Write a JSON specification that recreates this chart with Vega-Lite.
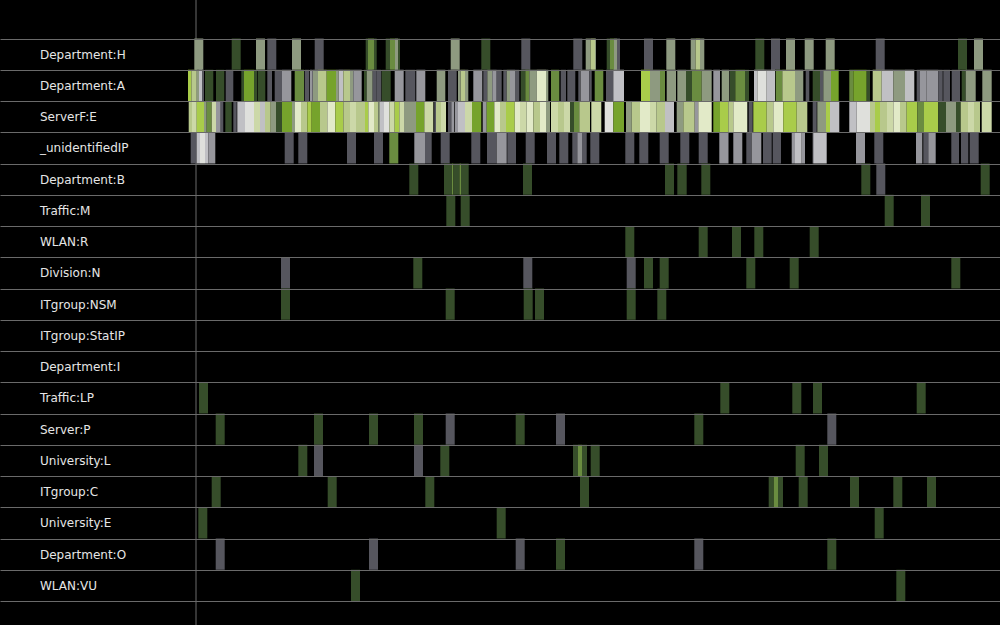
{"$schema":"https://vega.github.io/schema/vega-lite/v6.json","width":1000,"height":625,"padding":0,"autosize":{"type":"none"},"background":"#000000","config":{"view":{"stroke":null}},
"layer":[
{"data":{"values":[{"t":196}]},"mark":{"type":"rule","color":"#6a6a6a","strokeWidth":1},"encoding":{"x":{"field":"t","type":"quantitative","scale":{"domain":[0,1000]},"axis":null}}},
{"data":{"name":"events","values":[
{"r":"Department:H","s":194.3,"e":203.3,"c":"S"},{"r":"Department:H","s":231.7,"e":240.7,"c":"G"},{"r":"Department:H","s":256,"e":265,"c":"S"},{"r":"Department:H","s":267.3,"e":276.3,"c":"K"},{"r":"Department:H","s":292,"e":301,"c":"S"},{"r":"Department:H","s":314.7,"e":323.7,"c":"K"},{"r":"Department:H","s":365.7,"e":368,"c":"G"},{"r":"Department:H","s":368,"e":374,"c":"D"},{"r":"Department:H","s":374,"e":376.7,"c":"G"},{"r":"Department:H","s":385.7,"e":390,"c":"G"},{"r":"Department:H","s":390,"e":395,"c":"D"},{"r":"Department:H","s":395,"e":398,"c":"S"},{"r":"Department:H","s":398,"e":400,"c":"G"},{"r":"Department:H","s":450.7,"e":459.7,"c":"S"},{"r":"Department:H","s":481.3,"e":490.3,"c":"G"},{"r":"Department:H","s":521.3,"e":530.3,"c":"K"},{"r":"Department:H","s":573.3,"e":582.3,"c":"K"},{"r":"Department:H","s":585.7,"e":590.5,"c":"S"},{"r":"Department:H","s":590.5,"e":595,"c":"Q"},{"r":"Department:H","s":595,"e":596,"c":"S"},{"r":"Department:H","s":606.7,"e":610,"c":"G"},{"r":"Department:H","s":610,"e":614,"c":"D"},{"r":"Department:H","s":614,"e":617,"c":"S"},{"r":"Department:H","s":617,"e":620,"c":"K"},{"r":"Department:H","s":644,"e":653,"c":"K"},{"r":"Department:H","s":666.3,"e":675.3,"c":"S"},{"r":"Department:H","s":690.7,"e":695.5,"c":"S"},{"r":"Department:H","s":695.5,"e":700,"c":"Q"},{"r":"Department:H","s":700,"e":704.3,"c":"S"},{"r":"Department:H","s":755.3,"e":764.3,"c":"G"},{"r":"Department:H","s":771,"e":780,"c":"K"},{"r":"Department:H","s":786,"e":795,"c":"S"},{"r":"Department:H","s":804.7,"e":813.7,"c":"S"},{"r":"Department:H","s":825.7,"e":834.7,"c":"S"},{"r":"Department:H","s":875.7,"e":884.7,"c":"K"},{"r":"Department:H","s":958,"e":967,"c":"G"},{"r":"Department:H","s":974,"e":983,"c":"S"},
{"r":"Department:A","s":188,"e":191.3,"c":"B"},{"r":"Department:A","s":191.3,"e":196.7,"c":"Q"},{"r":"Department:A","s":196.7,"e":199,"c":"S"},{"r":"Department:A","s":199,"e":202,"c":"L"},{"r":"Department:A","s":202,"e":204,"c":"K"},{"r":"Department:A","s":205,"e":213.3,"c":"G"},{"r":"Department:A","s":216,"e":224.3,"c":"G"},{"r":"Department:A","s":225.7,"e":233.3,"c":"K"},{"r":"Department:A","s":241.3,"e":244,"c":"G"},{"r":"Department:A","s":244,"e":254,"c":"V"},{"r":"Department:A","s":254,"e":257.3,"c":"G"},{"r":"Department:A","s":258,"e":265.3,"c":"G"},{"r":"Department:A","s":267.3,"e":272,"c":"K"},{"r":"Department:A","s":274.7,"e":282,"c":"K"},{"r":"Department:A","s":282,"e":291.3,"c":"M"},{"r":"Department:A","s":294.7,"e":304,"c":"D"},{"r":"Department:A","s":304.7,"e":309.3,"c":"K"},{"r":"Department:A","s":310,"e":312.7,"c":"M"},{"r":"Department:A","s":313,"e":318,"c":"S"},{"r":"Department:A","s":318,"e":326.7,"c":"Q"},{"r":"Department:A","s":326.7,"e":336,"c":"V"},{"r":"Department:A","s":336,"e":338.7,"c":"S"},{"r":"Department:A","s":338.7,"e":343.3,"c":"L"},{"r":"Department:A","s":343.3,"e":350,"c":"Q"},{"r":"Department:A","s":350,"e":353.3,"c":"S"},{"r":"Department:A","s":353.3,"e":361.7,"c":"M"},{"r":"Department:A","s":364,"e":366.7,"c":"G"},{"r":"Department:A","s":366.7,"e":372.7,"c":"S"},{"r":"Department:A","s":372.7,"e":376.7,"c":"K"},{"r":"Department:A","s":376.7,"e":381.3,"c":"K"},{"r":"Department:A","s":381.7,"e":390.7,"c":"G"},{"r":"Department:A","s":394.7,"e":403.7,"c":"M"},{"r":"Department:A","s":405.3,"e":415.3,"c":"K"},{"r":"Department:A","s":416.3,"e":425.3,"c":"M"},{"r":"Department:A","s":436.7,"e":445.3,"c":"S"},{"r":"Department:A","s":448,"e":456.7,"c":"K"},{"r":"Department:A","s":458,"e":460.7,"c":"S"},{"r":"Department:A","s":460.7,"e":465,"c":"Q"},{"r":"Department:A","s":465,"e":468.3,"c":"S"},{"r":"Department:A","s":473.3,"e":482.3,"c":"M"},{"r":"Department:A","s":483.3,"e":487.3,"c":"K"},{"r":"Department:A","s":487.3,"e":492.3,"c":"S"},{"r":"Department:A","s":492.3,"e":496.7,"c":"M"},{"r":"Department:A","s":496.7,"e":501.7,"c":"K"},{"r":"Department:A","s":503.3,"e":506.7,"c":"K"},{"r":"Department:A","s":506.7,"e":510,"c":"S"},{"r":"Department:A","s":510,"e":515,"c":"M"},{"r":"Department:A","s":515,"e":519.3,"c":"K"},{"r":"Department:A","s":520.7,"e":525.3,"c":"G"},{"r":"Department:A","s":525.3,"e":529.3,"c":"D"},{"r":"Department:A","s":529.3,"e":536.7,"c":"S"},{"r":"Department:A","s":536.7,"e":546,"c":"Y"},{"r":"Department:A","s":546,"e":548.3,"c":"S"},{"r":"Department:A","s":551,"e":559.3,"c":"D"},{"r":"Department:A","s":560.7,"e":566,"c":"K"},{"r":"Department:A","s":567.3,"e":575.3,"c":"K"},{"r":"Department:A","s":578.3,"e":580.7,"c":"K"},{"r":"Department:A","s":580.7,"e":589.3,"c":"M"},{"r":"Department:A","s":589.3,"e":591.7,"c":"K"},{"r":"Department:A","s":594.7,"e":603.3,"c":"D"},{"r":"Department:A","s":606,"e":613.3,"c":"K"},{"r":"Department:A","s":613.3,"e":624,"c":"L"},{"r":"Department:A","s":641,"e":650,"c":"B"},{"r":"Department:A","s":650,"e":660,"c":"S"},{"r":"Department:A","s":660,"e":665,"c":"D"},{"r":"Department:A","s":666.7,"e":676,"c":"S"},{"r":"Department:A","s":677.3,"e":686,"c":"S"},{"r":"Department:A","s":686,"e":692,"c":"G"},{"r":"Department:A","s":692,"e":701.7,"c":"D"},{"r":"Department:A","s":701.7,"e":711.7,"c":"S"},{"r":"Department:A","s":713.3,"e":720,"c":"M"},{"r":"Department:A","s":721.7,"e":729.3,"c":"S"},{"r":"Department:A","s":730,"e":735.3,"c":"G"},{"r":"Department:A","s":735.3,"e":745,"c":"D"},{"r":"Department:A","s":745,"e":749,"c":"G"},{"r":"Department:A","s":754,"e":757.3,"c":"L"},{"r":"Department:A","s":757.3,"e":766.7,"c":"W"},{"r":"Department:A","s":766.7,"e":775,"c":"L"},{"r":"Department:A","s":775.7,"e":782.3,"c":"D"},{"r":"Department:A","s":782.3,"e":795,"c":"Q"},{"r":"Department:A","s":795,"e":803.3,"c":"S"},{"r":"Department:A","s":805.7,"e":809.3,"c":"K"},{"r":"Department:A","s":812.7,"e":820,"c":"G"},{"r":"Department:A","s":820,"e":823.3,"c":"K"},{"r":"Department:A","s":823.3,"e":831,"c":"S"},{"r":"Department:A","s":831,"e":838.7,"c":"V"},{"r":"Department:A","s":849.3,"e":853.3,"c":"D"},{"r":"Department:A","s":853.3,"e":866.7,"c":"V"},{"r":"Department:A","s":866.7,"e":870,"c":"G"},{"r":"Department:A","s":872.7,"e":881.7,"c":"Q"},{"r":"Department:A","s":881.7,"e":893.3,"c":"L"},{"r":"Department:A","s":893.3,"e":905,"c":"S"},{"r":"Department:A","s":905,"e":914.3,"c":"L"},{"r":"Department:A","s":916.7,"e":920,"c":"K"},{"r":"Department:A","s":920,"e":926.7,"c":"M"},{"r":"Department:A","s":926.7,"e":938.3,"c":"M"},{"r":"Department:A","s":938.3,"e":942.7,"c":"K"},{"r":"Department:A","s":943.3,"e":950,"c":"K"},{"r":"Department:A","s":951.7,"e":960,"c":"K"},{"r":"Department:A","s":961.7,"e":965.7,"c":"G"},{"r":"Department:A","s":965.7,"e":975.7,"c":"S"},{"r":"Department:A","s":982.3,"e":991.7,"c":"S"},
{"r":"ServerF:E","s":188.7,"e":192,"c":"Q"},{"r":"ServerF:E","s":192,"e":196.7,"c":"P"},{"r":"ServerF:E","s":196.7,"e":204,"c":"B"},{"r":"ServerF:E","s":204,"e":206.7,"c":"S"},{"r":"ServerF:E","s":206.7,"e":211.7,"c":"D"},{"r":"ServerF:E","s":211.7,"e":216,"c":"P"},{"r":"ServerF:E","s":216,"e":220.7,"c":"M"},{"r":"ServerF:E","s":220.7,"e":223.3,"c":"K"},{"r":"ServerF:E","s":225.3,"e":231.7,"c":"G"},{"r":"ServerF:E","s":233.3,"e":236.7,"c":"K"},{"r":"ServerF:E","s":237.3,"e":245,"c":"L"},{"r":"ServerF:E","s":245,"e":254,"c":"W"},{"r":"ServerF:E","s":254,"e":260,"c":"P"},{"r":"ServerF:E","s":260,"e":265,"c":"L"},{"r":"ServerF:E","s":265,"e":270.7,"c":"Q"},{"r":"ServerF:E","s":270.7,"e":276,"c":"S"},{"r":"ServerF:E","s":276,"e":282,"c":"G"},{"r":"ServerF:E","s":282,"e":292,"c":"V"},{"r":"ServerF:E","s":292,"e":295,"c":"S"},{"r":"ServerF:E","s":295,"e":301,"c":"Y"},{"r":"ServerF:E","s":301,"e":307.3,"c":"Q"},{"r":"ServerF:E","s":307.3,"e":311.7,"c":"B"},{"r":"ServerF:E","s":311.7,"e":320,"c":"V"},{"r":"ServerF:E","s":320,"e":327.3,"c":"Q"},{"r":"ServerF:E","s":327.3,"e":335.3,"c":"Y"},{"r":"ServerF:E","s":335.3,"e":343.3,"c":"B"},{"r":"ServerF:E","s":343.3,"e":350,"c":"Q"},{"r":"ServerF:E","s":350,"e":356,"c":"P"},{"r":"ServerF:E","s":356,"e":365,"c":"Q"},{"r":"ServerF:E","s":365,"e":368.3,"c":"B"},{"r":"ServerF:E","s":368.3,"e":374,"c":"Y"},{"r":"ServerF:E","s":374,"e":378.3,"c":"Q"},{"r":"ServerF:E","s":378.3,"e":380,"c":"S"},{"r":"ServerF:E","s":380,"e":384,"c":"L"},{"r":"ServerF:E","s":384,"e":389.3,"c":"W"},{"r":"ServerF:E","s":389.3,"e":394.7,"c":"P"},{"r":"ServerF:E","s":394.7,"e":399.3,"c":"B"},{"r":"ServerF:E","s":399.3,"e":404,"c":"P"},{"r":"ServerF:E","s":404,"e":416,"c":"S"},{"r":"ServerF:E","s":416,"e":424.3,"c":"V"},{"r":"ServerF:E","s":424.3,"e":433.3,"c":"P"},{"r":"ServerF:E","s":434.3,"e":436,"c":"K"},{"r":"ServerF:E","s":436,"e":441,"c":"Q"},{"r":"ServerF:E","s":441,"e":446,"c":"P"},{"r":"ServerF:E","s":448,"e":451.3,"c":"K"},{"r":"ServerF:E","s":451.3,"e":454,"c":"M"},{"r":"ServerF:E","s":454.7,"e":458,"c":"M"},{"r":"ServerF:E","s":458,"e":465,"c":"L"},{"r":"ServerF:E","s":465,"e":472,"c":"P"},{"r":"ServerF:E","s":472,"e":481.3,"c":"V"},{"r":"ServerF:E","s":482.7,"e":486.7,"c":"M"},{"r":"ServerF:E","s":486.7,"e":494.3,"c":"V"},{"r":"ServerF:E","s":494.3,"e":500,"c":"Y"},{"r":"ServerF:E","s":500,"e":506,"c":"Q"},{"r":"ServerF:E","s":506,"e":514.7,"c":"B"},{"r":"ServerF:E","s":514.7,"e":520,"c":"Y"},{"r":"ServerF:E","s":520,"e":526.7,"c":"P"},{"r":"ServerF:E","s":526.7,"e":533.3,"c":"Y"},{"r":"ServerF:E","s":533.3,"e":540,"c":"Q"},{"r":"ServerF:E","s":540,"e":546,"c":"Y"},{"r":"ServerF:E","s":546,"e":550,"c":"S"},{"r":"ServerF:E","s":551,"e":558,"c":"P"},{"r":"ServerF:E","s":558,"e":564,"c":"Q"},{"r":"ServerF:E","s":564,"e":570,"c":"P"},{"r":"ServerF:E","s":570,"e":574,"c":"G"},{"r":"ServerF:E","s":574,"e":579.3,"c":"D"},{"r":"ServerF:E","s":579.3,"e":590,"c":"Q"},{"r":"ServerF:E","s":591.3,"e":601.3,"c":"P"},{"r":"ServerF:E","s":604.7,"e":613.3,"c":"W"},{"r":"ServerF:E","s":613.3,"e":624,"c":"V"},{"r":"ServerF:E","s":626,"e":631.7,"c":"S"},{"r":"ServerF:E","s":631.7,"e":640,"c":"Q"},{"r":"ServerF:E","s":640,"e":650,"c":"Y"},{"r":"ServerF:E","s":650,"e":656.7,"c":"P"},{"r":"ServerF:E","s":656.7,"e":665,"c":"Q"},{"r":"ServerF:E","s":665,"e":674,"c":"L"},{"r":"ServerF:E","s":676.7,"e":683.3,"c":"S"},{"r":"ServerF:E","s":683.3,"e":694.7,"c":"Q"},{"r":"ServerF:E","s":694.7,"e":698.3,"c":"M"},{"r":"ServerF:E","s":698.3,"e":711.7,"c":"Y"},{"r":"ServerF:E","s":713.3,"e":720,"c":"V"},{"r":"ServerF:E","s":720,"e":728.3,"c":"B"},{"r":"ServerF:E","s":728.3,"e":733.3,"c":"Q"},{"r":"ServerF:E","s":733.3,"e":747.3,"c":"Y"},{"r":"ServerF:E","s":748.7,"e":752.7,"c":"K"},{"r":"ServerF:E","s":753.3,"e":766.7,"c":"B"},{"r":"ServerF:E","s":766.7,"e":773.3,"c":"Q"},{"r":"ServerF:E","s":773.3,"e":783.3,"c":"Y"},{"r":"ServerF:E","s":783.3,"e":796.7,"c":"B"},{"r":"ServerF:E","s":796.7,"e":807.3,"c":"Q"},{"r":"ServerF:E","s":812.7,"e":816.7,"c":"K"},{"r":"ServerF:E","s":817.3,"e":826,"c":"S"},{"r":"ServerF:E","s":826,"e":830,"c":"B"},{"r":"ServerF:E","s":830,"e":839.3,"c":"L"},{"r":"ServerF:E","s":849.3,"e":856.7,"c":"L"},{"r":"ServerF:E","s":856.7,"e":870,"c":"W"},{"r":"ServerF:E","s":870,"e":875,"c":"Q"},{"r":"ServerF:E","s":875,"e":880,"c":"B"},{"r":"ServerF:E","s":880,"e":887,"c":"Q"},{"r":"ServerF:E","s":887,"e":893.3,"c":"P"},{"r":"ServerF:E","s":893.3,"e":900,"c":"Y"},{"r":"ServerF:E","s":900,"e":906.7,"c":"Q"},{"r":"ServerF:E","s":906.7,"e":917.3,"c":"B"},{"r":"ServerF:E","s":917.3,"e":924,"c":"D"},{"r":"ServerF:E","s":924,"e":938.3,"c":"B"},{"r":"ServerF:E","s":938.3,"e":946,"c":"G"},{"r":"ServerF:E","s":946,"e":956,"c":"S"},{"r":"ServerF:E","s":956,"e":960.7,"c":"G"},{"r":"ServerF:E","s":960.7,"e":968,"c":"Q"},{"r":"ServerF:E","s":968,"e":974,"c":"P"},{"r":"ServerF:E","s":974,"e":980,"c":"Q"},{"r":"ServerF:E","s":981.7,"e":991.7,"c":"P"},
{"r":"_unidentifiedIP","s":190.7,"e":196.7,"c":"K"},{"r":"_unidentifiedIP","s":196.7,"e":200,"c":"L"},{"r":"_unidentifiedIP","s":200,"e":205,"c":"W"},{"r":"_unidentifiedIP","s":205,"e":208.3,"c":"L"},{"r":"_unidentifiedIP","s":208.3,"e":215.3,"c":"M"},{"r":"_unidentifiedIP","s":284.7,"e":293.7,"c":"K"},{"r":"_unidentifiedIP","s":298.3,"e":307.3,"c":"K"},{"r":"_unidentifiedIP","s":347,"e":356,"c":"K"},{"r":"_unidentifiedIP","s":374,"e":383,"c":"K"},{"r":"_unidentifiedIP","s":389.3,"e":398.3,"c":"D"},{"r":"_unidentifiedIP","s":414.3,"e":425,"c":"M"},{"r":"_unidentifiedIP","s":425,"e":431.7,"c":"K"},{"r":"_unidentifiedIP","s":440.7,"e":449.7,"c":"K"},{"r":"_unidentifiedIP","s":471.3,"e":480.3,"c":"K"},{"r":"_unidentifiedIP","s":487,"e":496.7,"c":"K"},{"r":"_unidentifiedIP","s":496.7,"e":506.7,"c":"M"},{"r":"_unidentifiedIP","s":507.3,"e":516,"c":"K"},{"r":"_unidentifiedIP","s":525.7,"e":534.7,"c":"K"},{"r":"_unidentifiedIP","s":547,"e":556,"c":"K"},{"r":"_unidentifiedIP","s":559.3,"e":568.3,"c":"K"},{"r":"_unidentifiedIP","s":572.3,"e":577.3,"c":"K"},{"r":"_unidentifiedIP","s":577.3,"e":582,"c":"M"},{"r":"_unidentifiedIP","s":582,"e":586.7,"c":"K"},{"r":"_unidentifiedIP","s":590.3,"e":599.3,"c":"K"},{"r":"_unidentifiedIP","s":625.3,"e":634.3,"c":"K"},{"r":"_unidentifiedIP","s":639.3,"e":648.3,"c":"K"},{"r":"_unidentifiedIP","s":659.7,"e":668.7,"c":"K"},{"r":"_unidentifiedIP","s":680.3,"e":689.3,"c":"K"},{"r":"_unidentifiedIP","s":698.7,"e":707.7,"c":"K"},{"r":"_unidentifiedIP","s":719.3,"e":728.5,"c":"M"},{"r":"_unidentifiedIP","s":733.3,"e":742.3,"c":"M"},{"r":"_unidentifiedIP","s":746.3,"e":751.7,"c":"K"},{"r":"_unidentifiedIP","s":751.7,"e":761.3,"c":"M"},{"r":"_unidentifiedIP","s":763,"e":771.7,"c":"K"},{"r":"_unidentifiedIP","s":772.7,"e":781,"c":"K"},{"r":"_unidentifiedIP","s":791.7,"e":795,"c":"M"},{"r":"_unidentifiedIP","s":795,"e":801.7,"c":"L"},{"r":"_unidentifiedIP","s":801.7,"e":805,"c":"M"},{"r":"_unidentifiedIP","s":812.7,"e":814,"c":"M"},{"r":"_unidentifiedIP","s":814,"e":826.7,"c":"L"},{"r":"_unidentifiedIP","s":856,"e":865,"c":"M"},{"r":"_unidentifiedIP","s":874.3,"e":883.3,"c":"K"},{"r":"_unidentifiedIP","s":916,"e":922.3,"c":"M"},{"r":"_unidentifiedIP","s":923.3,"e":928.3,"c":"K"},{"r":"_unidentifiedIP","s":928.3,"e":935.7,"c":"M"},{"r":"_unidentifiedIP","s":951.3,"e":959,"c":"K"},{"r":"_unidentifiedIP","s":961,"e":968.3,"c":"K"},{"r":"_unidentifiedIP","s":969.7,"e":978.7,"c":"K"},
{"r":"Department:B","s":409.3,"e":418.3,"c":"G"},{"r":"Department:B","s":444,"e":452,"c":"G"},{"r":"Department:B","s":452,"e":453.5,"c":"D"},{"r":"Department:B","s":453.5,"e":459.5,"c":"G"},{"r":"Department:B","s":459.5,"e":461,"c":"D"},{"r":"Department:B","s":461,"e":468.7,"c":"G"},{"r":"Department:B","s":523,"e":532,"c":"G"},{"r":"Department:B","s":665,"e":674,"c":"G"},{"r":"Department:B","s":677.3,"e":686.7,"c":"G"},{"r":"Department:B","s":701.3,"e":710.3,"c":"G"},{"r":"Department:B","s":861.3,"e":870.3,"c":"G"},{"r":"Department:B","s":876.3,"e":885.3,"c":"K"},{"r":"Department:B","s":980.7,"e":989.7,"c":"G"},
{"r":"Traffic:M","s":446.3,"e":455.3,"c":"G"},{"r":"Traffic:M","s":460.7,"e":469.7,"c":"G"},{"r":"Traffic:M","s":884.7,"e":893.7,"c":"G"},{"r":"Traffic:M","s":921,"e":930,"c":"G"},
{"r":"WLAN:R","s":625.3,"e":634.3,"c":"G"},{"r":"WLAN:R","s":698.7,"e":707.7,"c":"G"},{"r":"WLAN:R","s":732,"e":741,"c":"G"},{"r":"WLAN:R","s":754.3,"e":763.3,"c":"G"},{"r":"WLAN:R","s":809.7,"e":818.7,"c":"G"},
{"r":"Division:N","s":281,"e":290,"c":"K"},{"r":"Division:N","s":413.3,"e":422.3,"c":"G"},{"r":"Division:N","s":523.3,"e":532.3,"c":"K"},{"r":"Division:N","s":626.7,"e":635.7,"c":"K"},{"r":"Division:N","s":644,"e":653,"c":"G"},{"r":"Division:N","s":659.7,"e":668.7,"c":"G"},{"r":"Division:N","s":746.3,"e":755.3,"c":"G"},{"r":"Division:N","s":789.7,"e":798.7,"c":"G"},{"r":"Division:N","s":951.3,"e":960.3,"c":"G"},
{"r":"ITgroup:NSM","s":281,"e":290,"c":"G"},{"r":"ITgroup:NSM","s":445.7,"e":454.7,"c":"G"},{"r":"ITgroup:NSM","s":523.7,"e":532.7,"c":"G"},{"r":"ITgroup:NSM","s":535,"e":544,"c":"G"},{"r":"ITgroup:NSM","s":626.7,"e":635.7,"c":"G"},{"r":"ITgroup:NSM","s":657.3,"e":666.3,"c":"G"},
{"r":"Traffic:LP","s":199,"e":208,"c":"G"},{"r":"Traffic:LP","s":720.3,"e":729.3,"c":"G"},{"r":"Traffic:LP","s":792.3,"e":801.3,"c":"G"},{"r":"Traffic:LP","s":813,"e":822,"c":"G"},{"r":"Traffic:LP","s":916.7,"e":925.7,"c":"G"},
{"r":"Server:P","s":215.7,"e":224.7,"c":"G"},{"r":"Server:P","s":314,"e":323,"c":"G"},{"r":"Server:P","s":369,"e":378,"c":"G"},{"r":"Server:P","s":414,"e":423,"c":"G"},{"r":"Server:P","s":445.7,"e":454.7,"c":"K"},{"r":"Server:P","s":515.7,"e":524.7,"c":"G"},{"r":"Server:P","s":556,"e":565,"c":"K"},{"r":"Server:P","s":694.3,"e":703.3,"c":"G"},{"r":"Server:P","s":827.3,"e":836.3,"c":"K"},
{"r":"University:L","s":298.3,"e":307.3,"c":"G"},{"r":"University:L","s":314,"e":323,"c":"K"},{"r":"University:L","s":414,"e":423,"c":"K"},{"r":"University:L","s":440.3,"e":449.3,"c":"G"},{"r":"University:L","s":573,"e":578,"c":"G"},{"r":"University:L","s":578,"e":582,"c":"D"},{"r":"University:L","s":582,"e":587,"c":"G"},{"r":"University:L","s":590.7,"e":599.7,"c":"G"},{"r":"University:L","s":795.7,"e":804.7,"c":"G"},{"r":"University:L","s":819,"e":828,"c":"G"},
{"r":"ITgroup:C","s":211.7,"e":220.7,"c":"G"},{"r":"ITgroup:C","s":327.7,"e":336.7,"c":"G"},{"r":"ITgroup:C","s":425.3,"e":434.3,"c":"G"},{"r":"ITgroup:C","s":580,"e":589,"c":"G"},{"r":"ITgroup:C","s":768.7,"e":773.7,"c":"G"},{"r":"ITgroup:C","s":773.7,"e":778,"c":"D"},{"r":"ITgroup:C","s":778,"e":783,"c":"G"},{"r":"ITgroup:C","s":798.7,"e":807.7,"c":"G"},{"r":"ITgroup:C","s":850,"e":859,"c":"G"},{"r":"ITgroup:C","s":893.3,"e":902.3,"c":"G"},{"r":"ITgroup:C","s":927,"e":936,"c":"G"},
{"r":"University:E","s":198.3,"e":207.3,"c":"G"},{"r":"University:E","s":496.7,"e":505.7,"c":"G"},{"r":"University:E","s":874.7,"e":883.7,"c":"G"},
{"r":"Department:O","s":215.7,"e":224.7,"c":"K"},{"r":"Department:O","s":369,"e":378,"c":"K"},{"r":"Department:O","s":515.7,"e":524.7,"c":"K"},{"r":"Department:O","s":556,"e":565,"c":"G"},{"r":"Department:O","s":694.3,"e":703.3,"c":"K"},{"r":"Department:O","s":827.3,"e":836.3,"c":"G"},
{"r":"WLAN:VU","s":351,"e":360,"c":"G"},{"r":"WLAN:VU","s":896.3,"e":905.3,"c":"G"}
]},
"mark":{"type":"rect"},
"encoding":{
"x":{"field":"s","type":"quantitative","scale":{"domain":[0,1000]},"axis":null},
"x2":{"field":"e"},
"y":{"field":"r","type":"nominal","title":null,"sort":null,"scale":{"domain":["Department:H","Department:A","ServerF:E","_unidentifiedIP","Department:B","Traffic:M","WLAN:R","Division:N","ITgroup:NSM","ITgroup:StatIP","Department:I","Traffic:LP","Server:P","University:L","ITgroup:C","University:E","Department:O","WLAN:VU"],"range":[38.5,601],"paddingInner":0,"paddingOuter":0},
"axis":{"orient":"left","domain":false,"ticks":false,"grid":true,"gridColor":"#6a6a6a","gridWidth":1,"gridOpacity":1,"tickBand":"extent","zindex":1,"labelAlign":"left","labelPadding":-39.5,"labelColor":"#e6e6e6","labelFont":"DejaVu Sans","labelFontSize":12,"labelBaseline":"middle"}},
"color":{"field":"c","type":"nominal","legend":null,"scale":{"domain":["K","M","L","W","G","D","V","B","Q","P","Y","S"],"range":["#56565e","#96969c","#c0c0c4","#dfe0dc","#364d2a","#6a8c40","#76a32c","#a9cc4a","#b8c88c","#ccd8a8","#e2eac8","#8e9a80"]}}
}}
]}
